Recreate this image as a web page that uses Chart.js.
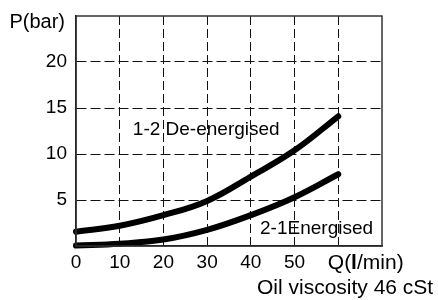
<!DOCTYPE html>
<html>
<head>
<meta charset="utf-8">
<script src="https://cdn.jsdelivr.net/npm/chart.js@4/dist/chart.umd.min.js"></script>
<style>
  html, body { margin: 0; padding: 0; background: #fff; }
  #wrap { width: 438px; height: 300px; position: relative; }
</style>
</head>
<body>
<div id="wrap"><canvas id="chart"></canvas></div>
<script>
// flow Q (l/min) and pressure drop P (bar)
const flow = [0, 10, 20, 30, 40, 50, 60];
const deEnergised = [1.55, 2.2, 3.35, 4.9, 7.55, 10.4, 14.1];
const energised = [0.05, 0.25, 0.7, 1.75, 3.35, 5.3, 7.8];
const xTicks = [0, 10, 20, 30, 40, 50];
const yTicks = [5, 10, 15, 20];

const FONT = '"Liberation Sans", Arial, sans-serif';

const toPoints = (ys) => flow.map((x, i) => ({ x: x, y: ys[i] }));

const lineStyle = {
  borderColor: '#000',
  borderWidth: 6,
  borderCapStyle: 'round',
  pointRadius: 0,
  tension: 0.4,
  clip: false
};

// frame + free text
const extras = {
  id: 'extras',
  afterDraw(chart) {
    const { ctx, chartArea: a } = chart;
    const xs = chart.scales.x, ys = chart.scales.y;
    ctx.save();
    ctx.setLineDash([]);
    ctx.strokeStyle = '#333';
    ctx.lineWidth = 1.5;
    ctx.strokeRect(a.left, a.top, a.right - a.left, a.bottom - a.top);

    ctx.fillStyle = '#000';
    ctx.textBaseline = 'middle';
    ctx.font = '19px ' + FONT;

    ctx.textAlign = 'left';
    ctx.fillText('1-2 De-energised', xs.getPixelForValue(13), ys.getPixelForValue(12.6));
    ctx.fillText('2-1Energised', xs.getPixelForValue(42.1), ys.getPixelForValue(1.85));

    ctx.textAlign = 'right';
    ctx.font = '20px ' + FONT;
    ctx.fillText('P(bar)', a.left - 11, a.top + 6);

    // Q(l/min) with bold l
    ctx.textAlign = 'left';
    let x = xs.getPixelForValue(57.6);
    const y = a.bottom + 17;
    const parts = [['Q(', '21px '], ['l', 'bold 21px '], ['/min)', '21px ']];
    parts.forEach(([t, f]) => {
      ctx.font = f + FONT;
      ctx.fillText(t, x, y);
      x += ctx.measureText(t).width;
    });

    ctx.font = '21px ' + FONT;
    ctx.fillText('Oil viscosity 46 cSt', xs.getPixelForValue(41.4), a.bottom + 42);
    ctx.restore();
  }
};

const hideEdge = (max) => (c) => (c.tick && (c.tick.value === 0 || c.tick.value === max)) ? 'rgba(0,0,0,0)' : '#111';

new Chart(document.getElementById('chart'), {
  type: 'line',
  data: {
    datasets: [
      Object.assign({ label: '1-2 De-energised', data: toPoints(deEnergised) }, lineStyle),
      Object.assign({ label: '2-1 Energised', data: toPoints(energised) }, lineStyle)
    ]
  },
  options: {
    responsive: true,
    maintainAspectRatio: false,
    animation: false,
    layout: { padding: { left: 0, top: 16, right: 56, bottom: 0 } },
    plugins: { legend: { display: false }, tooltip: { enabled: false } },
    scales: {
      x: {
        type: 'linear',
        min: 0,
        max: 70,
        afterFit: (s) => { s.height = 54; s.paddingLeft = 0; s.paddingRight = 0; },
        afterBuildTicks: (s) => { s.ticks = [0, 10, 20, 30, 40, 50, 60, 70].map(v => ({ value: v })); },
        ticks: {
          color: '#000',
          font: { family: FONT, size: 19 },
          padding: 5,
          maxRotation: 0,
          autoSkip: false,
          callback: (v) => xTicks.includes(v) ? String(v) : ''
        },
        grid: { color: hideEdge(70), lineWidth: 1, drawTicks: false },
        border: { display: true, color: '#000', width: 1.5, dash: [9, 4] }
      },
      y: {
        type: 'linear',
        min: 0,
        max: 25,
        afterFit: (s) => { s.width = 76; s.paddingTop = 0; s.paddingBottom = 0; },
        afterBuildTicks: (s) => { s.ticks = [0, 5, 10, 15, 20, 25].map(v => ({ value: v })); },
        ticks: {
          color: '#000',
          font: { family: FONT, size: 19 },
          padding: 9,
          autoSkip: false,
          callback: (v) => yTicks.includes(v) ? String(v) : ''
        },
        grid: { color: hideEdge(25), lineWidth: 1, drawTicks: false },
        border: { display: true, color: '#000', width: 1.5, dash: [10, 4] }
      }
    }
  },
  plugins: [extras]
});
</script>
</body>
</html>
